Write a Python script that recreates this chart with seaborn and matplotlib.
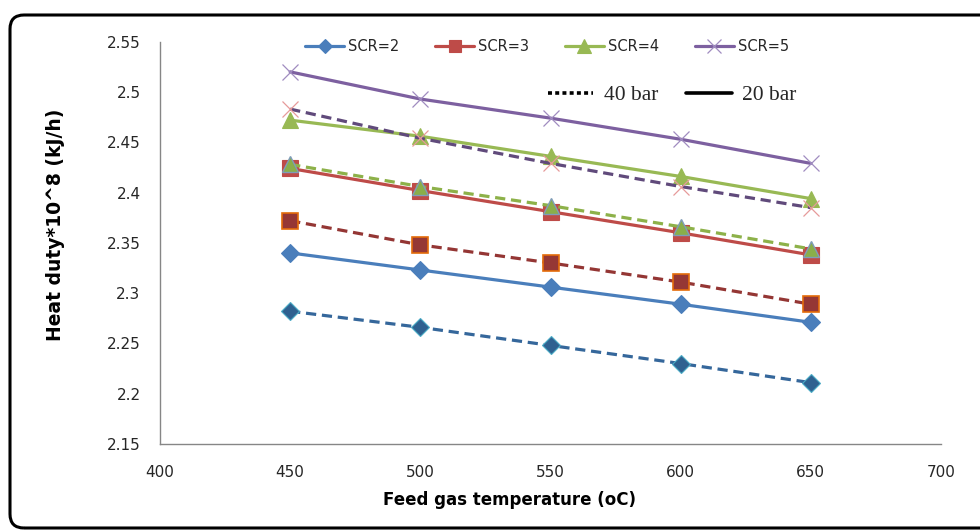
import numpy as np
import pandas as pd
import matplotlib
matplotlib.use("Agg")
import matplotlib.pyplot as plt
import seaborn as sns
from matplotlib.lines import Line2D
from matplotlib.patches import FancyBboxPatch
from matplotlib.transforms import IdentityTransform

# ---- data ----
temperature = [450, 500, 550, 600, 650]
scr2_20bar = [2.340, 2.323, 2.306, 2.289, 2.271]
scr3_20bar = [2.424, 2.402, 2.381, 2.360, 2.338]
scr4_20bar = [2.472, 2.456, 2.436, 2.416, 2.394]
scr5_20bar = [2.520, 2.493, 2.474, 2.453, 2.429]
scr2_40bar = [2.282, 2.266, 2.248, 2.230, 2.211]
scr3_40bar = [2.372, 2.348, 2.330, 2.311, 2.289]
scr4_40bar = [2.428, 2.406, 2.387, 2.366, 2.344]
scr5_40bar = [2.483, 2.454, 2.429, 2.406, 2.385]
series_labels = ["SCR=2", "SCR=3", "SCR=4", "SCR=5"]
pressure_labels = ["40 bar", "20 bar"]
x_ticks = [400, 450, 500, 550, 600, 650, 700]
y_ticks = [2.15, 2.2, 2.25, 2.3, 2.35, 2.4, 2.45, 2.5, 2.55]

rows = []
for lab, vals in zip(series_labels, [scr2_20bar, scr3_20bar, scr4_20bar, scr5_20bar]):
    for t, v in zip(temperature, vals):
        rows.append((lab, "20 bar", t, v))
for lab, vals in zip(series_labels, [scr2_40bar, scr3_40bar, scr4_40bar, scr5_40bar]):
    for t, v in zip(temperature, vals):
        rows.append((lab, "40 bar", t, v))
df = pd.DataFrame(rows, columns=["SCR", "P", "T", "Q"])

sns.set_theme(style="white")
plt.rcParams["font.family"] = ["DejaVu Sans"]

fig = plt.figure(figsize=(9.8, 5.3), dpi=100)
ax = fig.add_axes([160 / 980, 1 - 444 / 530, 781 / 980, (444 - 41.7) / 530])

solid_style = {
    "SCR=2": dict(color="#4A7EBB", marker="D", markersize=9.5, mfc="#4A7EBB", mec="#4A7EBB", mew=0.8),
    "SCR=3": dict(color="#BE4B48", marker="s", markersize=11, mfc="#BE4B48", mec="#BE4B48", mew=0.8),
    "SCR=4": dict(color="#98B954", marker="^", markersize=12, mfc="#98B954", mec="#98B954", mew=0.8),
    "SCR=5": dict(color="#7D60A0", marker="x", markersize=12, mfc="#B3A2C7", mec="#A08CC0", mew=0.9),
}
dashed_style = {
    "SCR=2": dict(color="#35679B", marker="D", markersize=9.5, mfc="#2F6190", mec="#4BACC6", mew=0.8),
    "SCR=3": dict(color="#943634", marker="s", markersize=11, mfc="#953735", mec="#E46C0A", mew=1.2),
    "SCR=4": dict(color="#8DB149", marker="^", markersize=12, mfc="#8AAE4A", mec="#7F9DB9", mew=1.0),
    "SCR=5": dict(color="#604A7B", marker="x", markersize=12, mfc="#E6A0A0", mec="#E69A9A", mew=0.9),
}

for lab in series_labels:
    sub = df[(df.SCR == lab) & (df.P == "20 bar")]
    st = solid_style[lab]
    sns.lineplot(data=sub, x="T", y="Q", ax=ax, color=st["color"], lw=2.3,
                 marker=st["marker"], markersize=st["markersize"],
                 markerfacecolor=st["mfc"], markeredgecolor=st["mec"],
                 markeredgewidth=st["mew"], legend=False, zorder=3)
for lab in series_labels:
    sub = df[(df.SCR == lab) & (df.P == "40 bar")]
    st = dashed_style[lab]
    sns.lineplot(data=sub, x="T", y="Q", ax=ax, color=st["color"], lw=2.3,
                 linestyle=(0, (3.2, 1.8)),
                 marker=st["marker"], markersize=st["markersize"],
                 markerfacecolor=st["mfc"], markeredgecolor=st["mec"],
                 markeredgewidth=st["mew"], legend=False, zorder=4)

ax.set_xlim(400, 700)
ax.set_ylim(2.15, 2.55)
ax.set_xticks(x_ticks)
ax.set_yticks(y_ticks)
ax.set_xticklabels([str(v) for v in x_ticks])
ax.set_yticklabels([f"{v:g}" for v in y_ticks])
for s in ["top", "right"]:
    ax.spines[s].set_visible(False)
for s in ["left", "bottom"]:
    ax.spines[s].set_color("#868686")
    ax.spines[s].set_linewidth(1.0)
ax.tick_params(axis="both", which="both", direction="out", length=5, width=0.9,
               color="#868686", labelsize=11, labelcolor="#262626")
ax.tick_params(axis="y", pad=9)
ax.tick_params(axis="x", pad=10)
ax.grid(False)
ax.set_facecolor("none")

ax.set_xlabel("Feed gas temperature (oC)", fontsize=12, fontweight="bold", color="black")
ax.set_ylabel("Heat duty*10^8 (kJ/h)", fontsize=13.5, fontweight="bold", color="black")
ax.xaxis.set_label_coords((509 - 160) / 781, (444 - 500) / 402.3)
ax.yaxis.set_label_coords((56 - 160) / 781, (444 - 225) / 402.3)
ax.xaxis.label.set_verticalalignment("center")
ax.yaxis.label.set_verticalalignment("center")

# legend 1: series
handles1 = []
for lab in series_labels:
    st = solid_style[lab]
    handles1.append(Line2D([], [], color=st["color"], lw=2.3, marker=st["marker"],
                           markersize=st["markersize"] * 0.8, markerfacecolor=st["mfc"],
                           markeredgecolor=st["mec"], markeredgewidth=st["mew"]))
leg1 = ax.legend(handles1, series_labels, loc="center left",
                 bbox_to_anchor=((305 - 160) / 781, (444 - 46.7) / 402.3),
                 ncol=4, frameon=False, fontsize=10.5, handlelength=2.7,
                 handletextpad=0.25, columnspacing=2.45, borderpad=0, borderaxespad=0)
ax.add_artist(leg1)

# legend 2: pressure
handles2 = [Line2D([], [], color="black", lw=2.6, linestyle=(0, (1.1, 0.9))),
            Line2D([], [], color="black", lw=2.6)]
leg2 = ax.legend(handles2, pressure_labels, loc="center left",
                 bbox_to_anchor=((548 - 160) / 781, (444 - 95) / 402.3),
                 ncol=2, frameon=False, prop={"family": "Liberation Serif", "size": 15.5},
                 handlelength=2.1, handletextpad=0.5, columnspacing=1.3,
                 borderpad=0, borderaxespad=0)

# rounded chart border (pixel coordinates, origin bottom-left)
border = FancyBboxPatch((10, 530 - 528), 996 - 10, 528 - 15,
                        boxstyle="round,pad=0,rounding_size=14",
                        transform=IdentityTransform(), fill=False, edgecolor="black",
                        linewidth=2.2, clip_on=False)
fig.patches.append(border)

fig.savefig("out.png", dpi=100)
